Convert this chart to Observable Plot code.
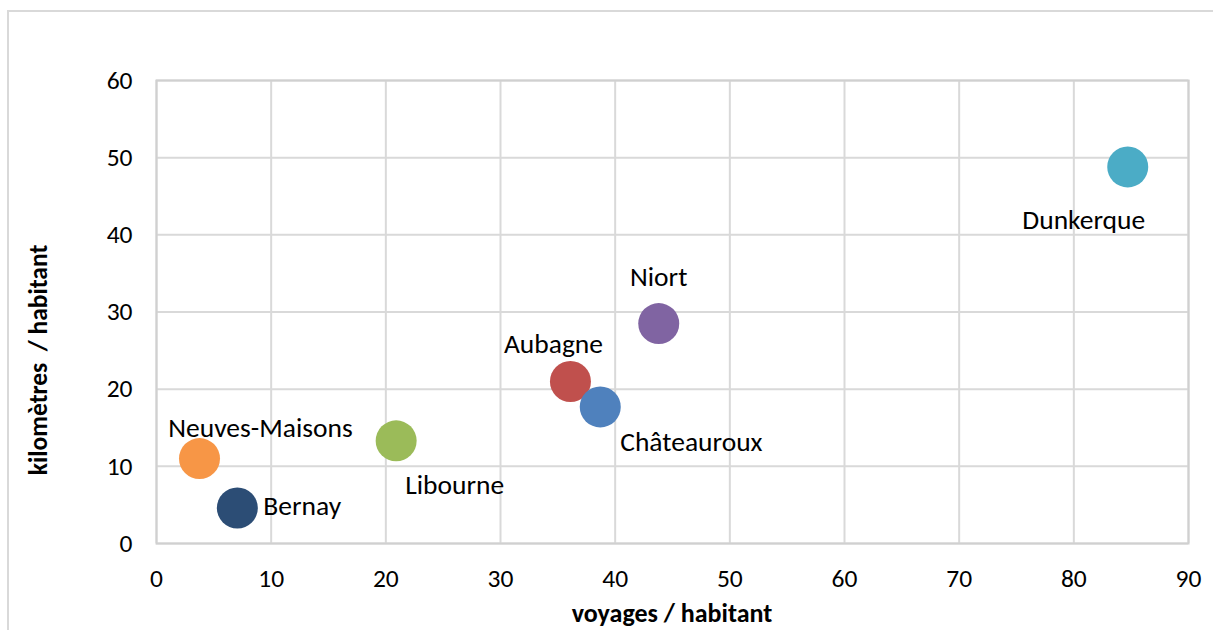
<!DOCTYPE html>
<html>
<head>
<meta charset="utf-8">
<script src="https://cdn.jsdelivr.net/npm/d3@7"></script>
<script src="https://cdn.jsdelivr.net/npm/@observablehq/plot@0.6"></script>
<style>
  html, body { margin: 0; padding: 0; background: #fff; }
  #wrap { position: relative; width: 1213px; height: 630px; overflow: hidden; }
  #outer { position: absolute; left: 7px; top: 10px; width: 1230px; height: 650px;
           border: 2px solid #d9d9d9; box-sizing: border-box; pointer-events: none; }
  #chart { position: absolute; left: 0; top: 0; }
</style>
</head>
<body>
<div id="wrap">
  <div id="outer"></div>
  <div id="chart"></div>
</div>
<script>
// Data
const cities = ["Neuves-Maisons", "Bernay", "Libourne", "Aubagne", "Châteauroux", "Niort", "Dunkerque"];
const voyages = [3.75, 7.05, 20.9, 36.1, 38.7, 43.8, 84.7];
const kilometres = [11.0, 4.6, 13.3, 21.0, 17.7, 28.5, 48.8];
const colors = ["#F79646", "#2C4D75", "#9BBB59", "#C0504D", "#4F81BD", "#8064A2", "#4BACC6"];
const xTicks = [0, 10, 20, 30, 40, 50, 60, 70, 80, 90];
const yTicks = [0, 10, 20, 30, 40, 50, 60];

// Label placement (style)
const labelStyle = {
  "Neuves-Maisons": {dx: 61, dy: -30, anchor: "middle"},
  "Bernay": {dx: 26, dy: -2, anchor: "start"},
  "Libourne": {dx: 9, dy: 44, anchor: "start"},
  "Aubagne": {dx: -17, dy: -37, anchor: "middle"},
  "Châteauroux": {dx: 20, dy: 35, anchor: "start"},
  "Niort": {dx: 0, dy: -46, anchor: "middle"},
  "Dunkerque": {dx: -44, dy: 53, anchor: "middle"}
};

const data = cities.map((c, i) => ({city: c, x: voyages[i], y: kilometres[i], color: colors[i]}));

const font = "Carlito, Calibri, Lato, sans-serif";

const labelMarks = data.map(d => {
  const s = labelStyle[d.city];
  return Plot.text([d], {x: "x", y: "y", text: "city", dx: s.dx, dy: s.dy,
    textAnchor: s.anchor, fill: "#000", fontSize: 27.5, lineAnchor: "middle"});
});

const chart = Plot.plot({
  width: 1213,
  height: 630,
  marginLeft: 156,
  marginRight: 25,
  marginTop: 80,
  marginBottom: 87,
  style: {fontFamily: font, background: "transparent", overflow: "visible"},
  x: {domain: [0, 90], ticks: xTicks, label: null},
  y: {domain: [0, 60], ticks: yTicks, label: null},
  marks: [
    Plot.gridX(xTicks, {stroke: "#d9d9d9", strokeOpacity: 1, strokeWidth: 2}),
    Plot.gridY(yTicks, {stroke: "#d9d9d9", strokeOpacity: 1, strokeWidth: 2}),
    Plot.frame({stroke: "#d0d0d0", strokeWidth: 2}),
    Plot.axisX(xTicks, {tickSize: 0, tickPadding: 25, fontSize: 25.5, fill: "#000", label: null}),
    Plot.axisY(yTicks, {tickSize: 0, tickPadding: 24, fontSize: 25.5, fill: "#000", label: null}),
    Plot.dot(data, {x: "x", y: "y", r: 20.5, fill: "color", stroke: null}),
    ...labelMarks
  ]
});

// Axis titles as real SVG text
const svg = d3.select(chart);
svg.append("text")
  .attr("x", (156 + 1188) / 2)
  .attr("y", 622)
  .attr("text-anchor", "middle")
  .attr("font-weight", "bold")
  .attr("font-size", 26)
  .attr("font-family", font)
  .attr("fill", "#000")
  .text("voyages / habitant");
svg.append("text")
  .attr("transform", `translate(41, 360) rotate(-90)`)
  .attr("text-anchor", "middle")
  .attr("dominant-baseline", "middle")
  .attr("font-weight", "bold")
  .attr("font-size", 25.5)
  .attr("font-family", font)
  .attr("fill", "#000")
  .text("kilomètres  / habitant");

document.getElementById("chart").appendChild(chart);
</script>
</body>
</html>
